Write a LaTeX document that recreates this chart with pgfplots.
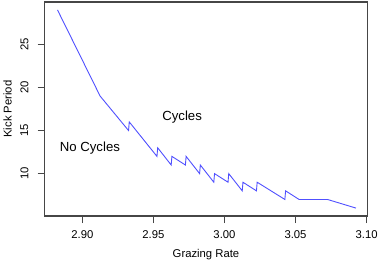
\documentclass[border=0pt]{standalone}
\usepackage{fontspec}
\setmainfont{Liberation Sans}
\usepackage{pgfplots}
\pgfplotsset{compat=1.18}
\definecolor{lineblue}{RGB}{80,80,255}
\definecolor{axgray}{RGB}{70,70,70}
\begin{document}
\begin{tikzpicture}
\useasboundingbox (-44.7pt,-47pt) rectangle (334.3pt,216pt);
\begin{axis}[
  at={(0,0)}, anchor=south west,
  scale only axis, width=322.6pt, height=214pt,
  xmin=2.8735, xmax=3.1005, ymin=5.08, ymax=29.92,
  xtick={2.90,2.95,3.00,3.05,3.10},
  ytick={10,15,20,25},
  xticklabels={2.90,2.95,3.00,3.05,3.10},
  yticklabels={10,15,20,25},
  tick align=outside,
  major tick length=7pt,
  tick style={draw=axgray, line width=1.1pt},
  xtick pos=left, ytick pos=left,
  tick label style={font=\fontsize{11.3}{13}\selectfont, text=black},
  xticklabel style={anchor=center, yshift=-12pt},
  yticklabel style={rotate=90, anchor=center, yshift=13.3pt},
  every axis x label/.style={at={(axis description cs:0.5,0)}, anchor=center, yshift=-39pt, font=\fontsize{11.3}{13}\selectfont},
  every axis y label/.style={at={([xshift=-37pt]axis description cs:0,0.5)}, rotate=90, anchor=center, font=\fontsize{11.3}{13}\selectfont},
  xlabel={Grazing Rate},
  ylabel={Kick Period},
  clip=false,
]
\addplot[color=lineblue, line width=0.9pt] coordinates {
(2.8825,29) (2.9125,19) (2.9325,15) (2.933,16) (2.9525,12) (2.953,13)
(2.9625,11) (2.963,12) (2.9725,11) (2.973,12) (2.9825,10) (2.983,11)
(2.9925,9) (2.993,10) (3.0025,9) (3.003,10) (3.0125,8) (3.013,9)
(3.0225,8) (3.023,9) (3.0425,7) (3.043,8) (3.0525,7) (3.0725,7) (3.0925,6)
};
\draw[axgray, line width=1.2pt] (rel axis cs:0,0) rectangle (rel axis cs:1,1);
\node[font=\fontsize{13.2}{15}\selectfont] at (axis cs:2.9702,16.6) {Cycles};
\node[font=\fontsize{13.2}{15}\selectfont] at (axis cs:2.9053,12.95) {No Cycles};
\end{axis}
\end{tikzpicture}
\end{document}
